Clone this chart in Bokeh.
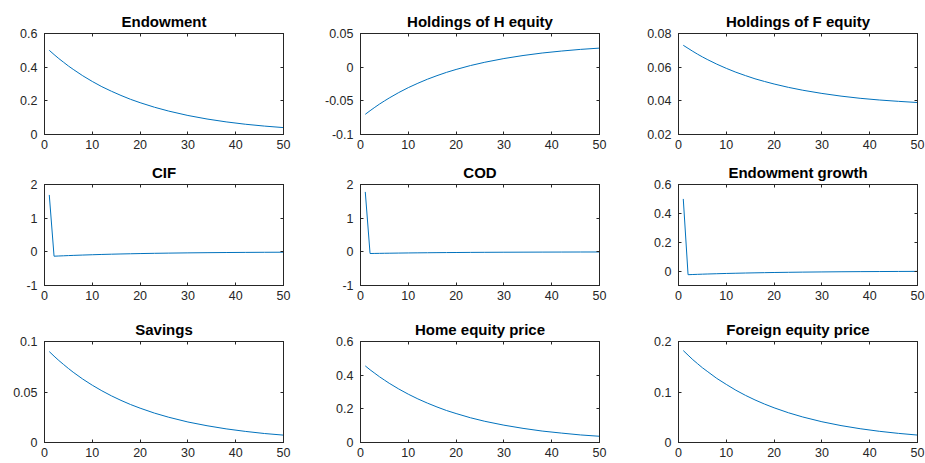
from bokeh.plotting import figure
from bokeh.layouts import column, row
from bokeh.models import FixedTicker, LinearAxis, Range1d
from bokeh.embed import file_html
from bokeh.resources import INLINE

# ---- data ----
horizon = [1, 2, 3, 4, 5, 6, 8, 10, 12, 14, 16, 18, 20, 23, 26, 30, 34, 38, 42, 46, 50]

endowment = [0.500, 0.475, 0.451, 0.429, 0.407, 0.387, 0.349, 0.315, 0.284, 0.257, 0.232,
             0.209, 0.189, 0.162, 0.139, 0.113, 0.092, 0.075, 0.061, 0.050, 0.041]
holdings_h = [-0.0700, -0.0647, -0.0596, -0.0547, -0.0502, -0.0458, -0.0377, -0.0304, -0.0239,
              -0.0179, -0.0126, -0.0077, -0.0034, 0.0024, 0.0073, 0.0128, 0.0173, 0.0210,
              0.0239, 0.0264, 0.0283]
holdings_f = [0.0730, 0.0712, 0.0694, 0.0677, 0.0661, 0.0646, 0.0618, 0.0593, 0.0570, 0.0550,
              0.0531, 0.0515, 0.0500, 0.0480, 0.0463, 0.0444, 0.0428, 0.0415, 0.0405, 0.0397,
              0.0390]
cif = [1.69, -0.130, -0.1235, -0.1173, -0.1115, -0.1059, -0.0956, -0.0862, -0.0778, -0.0703,
       -0.0634, -0.0572, -0.0516, -0.0443, -0.0380, -0.0309, -0.0252, -0.0205, -0.0167,
       -0.0136, -0.0111]
cod = [1.78, -0.050, -0.0475, -0.0451, -0.0429, -0.0407, -0.0368, -0.0332, -0.0299, -0.0270,
       -0.0244, -0.0220, -0.0199, -0.0170, -0.0146, -0.0119, -0.0097, -0.0079, -0.0064,
       -0.0052, -0.0043]
endowment_growth = [0.50, -0.025, -0.0238, -0.0226, -0.0214, -0.0204, -0.0184, -0.0166, -0.0150,
                    -0.0135, -0.0122, -0.0110, -0.0099, -0.0085, -0.0073, -0.0059, -0.0048,
                    -0.0039, -0.0032, -0.0026, -0.0021]
savings = [0.0900, 0.0855, 0.0812, 0.0772, 0.0733, 0.0696, 0.0628, 0.0567, 0.0512, 0.0462,
           0.0417, 0.0376, 0.0340, 0.0291, 0.0250, 0.0203, 0.0166, 0.0135, 0.0110, 0.0089,
           0.0073]
home_price = [0.455, 0.432, 0.411, 0.390, 0.371, 0.352, 0.318, 0.287, 0.259, 0.234, 0.211,
              0.190, 0.172, 0.147, 0.126, 0.103, 0.084, 0.068, 0.056, 0.045, 0.037]
foreign_price = [0.182, 0.173, 0.164, 0.156, 0.148, 0.141, 0.127, 0.115, 0.1035, 0.0934, 0.0843,
                 0.0761, 0.0687, 0.0589, 0.0505, 0.0411, 0.0335, 0.0273, 0.0222, 0.0181, 0.0147]

titles = ["Endowment", "Holdings of H equity", "Holdings of F equity",
          "CIF", "COD", "Endowment growth",
          "Savings", "Home equity price", "Foreign equity price"]

x_ticks = [0, 10, 20, 30, 40, 50]
x_labels = ["0", "10", "20", "30", "40", "50"]

yt_endow = [0, 0.2, 0.4, 0.6];            yl_endow = ["0", "0.2", "0.4", "0.6"]
yt_hold_h = [-0.1, -0.05, 0, 0.05];       yl_hold_h = ["-0.1", "-0.05", "0", "0.05"]
yt_hold_f = [0.02, 0.04, 0.06, 0.08];     yl_hold_f = ["0.02", "0.04", "0.06", "0.08"]
yt_ca = [-1, 0, 1, 2];                    yl_ca = ["-1", "0", "1", "2"]
yt_growth = [0, 0.2, 0.4, 0.6];           yl_growth = ["0", "0.2", "0.4", "0.6"]
yt_sav = [0, 0.05, 0.1];                  yl_sav = ["0", "0.05", "0.1"]
yt_home = [0, 0.2, 0.4, 0.6];             yl_home = ["0", "0.2", "0.4", "0.6"]
yt_for = [0, 0.1, 0.2];                   yl_for = ["0", "0.1", "0.2"]

y_ranges = [(0, 0.6), (-0.1, 0.05), (0.02, 0.08),
            (-1, 2), (-1, 2), (-0.1, 0.6),
            (0, 0.1), (0, 0.6), (0, 0.2)]

series = [endowment, holdings_h, holdings_f, cif, cod, endowment_growth,
          savings, home_price, foreign_price]
y_ticks = [yt_endow, yt_hold_h, yt_hold_f, yt_ca, yt_ca, yt_growth, yt_sav, yt_home, yt_for]
y_labels = [yl_endow, yl_hold_h, yl_hold_f, yl_ca, yl_ca, yl_growth, yl_sav, yl_home, yl_for]

# ---- styling / layout ----
LINE = "#0072BD"
AX = "#262626"
FONT = "Liberation Sans"
FRAME_W = 239
FRAME_H = 101
col_borders = [(44, 28), (49, 15), (64, 8)]   # (left, right)
row_borders = [(33, 23), (27, 25), (31, 21)]  # (top, bottom)


def style_axis(ax, ticks, labels, show_labels=True, standoff=7):
    ax.ticker = FixedTicker(ticks=ticks)
    ax.major_label_overrides = {t: l for t, l in zip(ticks, labels)}
    ax.axis_line_color = AX
    ax.axis_line_width = 1
    ax.major_tick_line_color = AX
    ax.major_tick_in = 3
    ax.major_tick_out = 0
    ax.minor_tick_line_color = None
    ax.major_label_text_font = FONT
    if show_labels:
        ax.major_label_text_color = AX
        ax.major_label_text_font_size = "12.5px"
        ax.major_label_standoff = standoff
    else:
        ax.major_label_text_color = None
        ax.major_label_text_font_size = "1px"
        ax.major_label_standoff = 0


def make_panel(i):
    r, c = divmod(i, 3)
    bl, br = col_borders[c]
    bt, bb = row_borders[r]
    p = figure(frame_width=FRAME_W, frame_height=FRAME_H,
               x_range=Range1d(0, 50), y_range=Range1d(*y_ranges[i]),
               output_backend="svg", toolbar_location=None,
               min_border_left=bl, min_border_right=br,
               min_border_top=bt, min_border_bottom=bb,
               background_fill_color="white", border_fill_color="white")
    p.outline_line_color = AX
    p.outline_line_width = 1
    p.grid.visible = False
    p.title.text = titles[i]
    p.title.align = "center"
    p.title.text_font = FONT
    p.title.text_font_size = "15px"
    p.title.text_font_style = "bold"
    p.title.text_color = "black"
    p.title.standoff = 8
    style_axis(p.xaxis[0], x_ticks, x_labels, standoff=5)
    style_axis(p.yaxis[0], y_ticks[i], y_labels[i], standoff=7)
    top = LinearAxis()
    style_axis(top, x_ticks, x_labels, show_labels=False)
    p.add_layout(top, "above")
    right = LinearAxis()
    style_axis(right, y_ticks[i], y_labels[i], show_labels=False)
    p.add_layout(right, "right")
    p.line(horizon, series[i], line_color=LINE, line_width=1)
    return p


panels = [make_panel(i) for i in range(9)]
layout = column(row(*panels[0:3]), row(*panels[3:6]), row(*panels[6:9]))

open("out.html", "w").write(file_html(layout, INLINE))
